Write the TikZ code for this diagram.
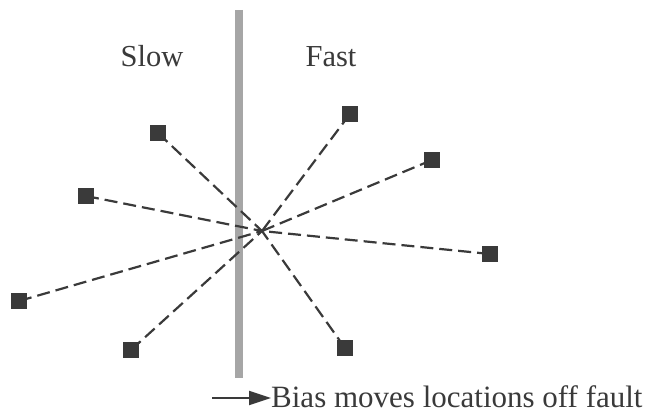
\documentclass[tikz,border=0pt]{standalone}
\usepackage{fontspec}
\setmainfont{Liberation Serif}
\usetikzlibrary{arrows.meta}
\definecolor{ink}{HTML}{3A3A3A}
\definecolor{barc}{HTML}{A6A6A6}
\tikzset{
  station/.style={draw=none,fill=ink,minimum size=15pt,inner sep=0pt},
  ray/.style={draw=ink,line width=2.2pt,dash pattern=on 13pt off 6pt},
  label/.style={text=ink,font=\fontsize{30.5}{36}\selectfont,anchor=base,inner sep=0pt},
}
\begin{document}
\begin{tikzpicture}[x=1pt,y=-1pt]
\useasboundingbox (0,0) rectangle (649,414);
% fault
\coordinate (ftop) at (239,10);
\coordinate (fbot) at (239,378);
\draw[barc,line width=8pt] (ftop) -- (fbot);
% hypocentre
\coordinate (c) at (262,231);
% stations
\node[station] (s1) at (158,133) {};
\node[station] (s2) at (86,196) {};
\node[station] (s3) at (19,301) {};
\node[station] (s4) at (131,350) {};
\node[station] (s5) at (350,114) {};
\node[station] (s6) at (432,160) {};
\node[station] (s7) at (490,254) {};
\node[station] (s8) at (345,348) {};
\foreach \s in {s1,s2,s3,s4,s5,s6,s7,s8}{
  \draw[ray] (\s.center) -- (c);
}
\foreach \s in {s1,s2,s3,s4,s5,s6,s7,s8}{
  \fill[ink] (\s.south west) rectangle (\s.north east);
}
% labels
\node[label] (slow) at (152,67) {Slow};
\node[label] (fast) at (331,67) {Fast};
\node[label,anchor=base west,font=\fontsize{31}{36}\selectfont] (bias) at (271,408) {Bias moves locations off fault};
\coordinate (atail) at (212,398);
\draw[ink,line width=2.2pt,-{Triangle[length=22pt,width=14pt]}] (atail) -- (bias.west |- atail);
\end{tikzpicture}
\end{document}
